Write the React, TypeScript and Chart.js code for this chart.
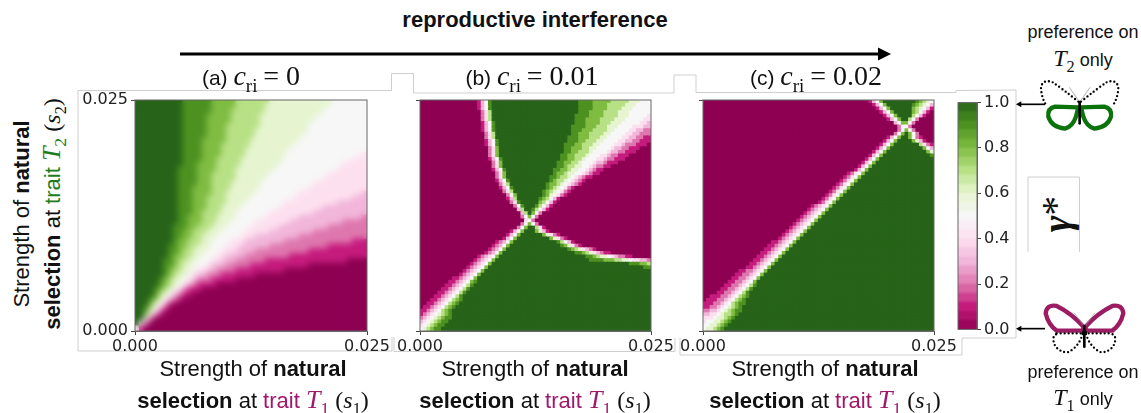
import React, { useEffect, useRef } from "react";
import { Chart, registerables } from "chart.js";

Chart.register(...registerables);

// Heatmap values: each row, top to bottom, as runs "<level><count>"; level 0-9,a means level/10 of gamma*.
const panelA: string[] = [
"a10 96 85 77 613 57","a10 96 85 76 613 58","a10 96 84 77 612 59","a10 95 85 76 612 510","a10 95 85 76 611 511","a10 95 84 77 610 512",
"a10 95 84 76 611 512","a10 95 84 76 610 513","a10 94 85 75 610 514","a10 94 84 76 69 515","a10 94 84 75 69 516","a10 94 84 75 68 516 41",
"a10 94 83 75 69 514 43","a10 93 84 75 68 513 45","a9 94 84 74 68 513 46","a9 94 83 75 67 512 48","a9 94 83 75 66 512 49","a9 94 83 74 66 511 411",
"a9 93 84 74 66 510 412","a9 93 84 73 66 59 413 31","a9 93 83 74 65 59 412 33","a9 93 83 74 64 58 411 36","a9 93 83 73 64 58 49 39","a9 93 82 74 63 57 49 311",
"a9 92 83 73 64 56 47 313 21","a9 92 83 73 63 55 47 311 25","a8 93 82 73 63 55 46 310 28","a8 92 82 73 63 55 45 39 211","a8 92 82 72 63 55 43 39 214","a8 91 82 73 62 54 43 38 214 13",
"a7 92 82 72 63 53 43 36 212 18","a7 92 81 72 63 53 43 34 211 112","a7 91 82 72 62 53 42 34 29 116","a6 92 81 72 62 53 42 33 26 117 04","a6 92 81 71 62 53 41 33 25 112 012","a6 91 81 72 62 51 42 32 24 110 017",
"a6 91 81 71 62 51 41 32 23 17 023","a5 91 81 71 62 51 41 31 23 15 027","a5 91 81 71 61 51 41 31 21 14 031","a4 91 81 71 61 51 41 21 13 034","a4 91 71 61 51 31 21 12 036","a3 91 81 61 51 31 21 11 038",
"a3 81 61 51 31 11 040","a2 91 71 51 31 11 041","a2 81 51 31 11 042","a2 51 21 044","a1 51 21 045","51 11 046",
];

const panelB: string[] = [
"016 11 31 51 91 a24 94 85 75 63 53","016 11 31 51 91 a24 94 84 75 63 54","016 11 31 51 91 a24 94 84 74 63 55","017 21 41 71 a24 93 84 74 63 56",
"017 21 41 71 a23 94 84 74 63 55 41","017 21 41 71 a23 93 84 74 63 55 42","017 11 31 51 91 a22 93 84 73 63 55 42 31","017 11 31 51 91 a21 94 83 73 63 54 43 32",
"017 11 31 51 91 a21 93 83 74 62 54 42 32 22","018 21 41 71 a21 92 83 74 62 54 42 32 23","018 21 41 71 a20 93 83 73 62 54 42 32 22 12","018 11 31 51 91 a19 93 82 73 62 54 42 32 22 13",
"018 11 31 51 91 a18 93 82 73 62 54 42 31 23 13 01","019 21 41 81 a18 92 83 72 62 54 41 32 22 13 03","019 21 41 81 a18 92 82 73 61 54 41 32 22 13 04","019 21 41 81 a17 92 82 73 61 53 42 31 22 13 06",
"019 11 31 51 91 a16 92 82 72 61 53 42 31 22 13 07","020 21 41 81 a15 92 82 72 61 53 41 32 21 13 09","020 21 41 81 a15 92 81 72 62 52 41 31 22 12 011","020 11 31 51 91 a13 92 82 71 62 52 41 31 21 12 013",
"021 21 41 81 a13 91 82 71 62 52 41 31 21 12 014","021 21 41 81 a12 92 81 72 61 51 41 31 21 12 016","021 11 31 51 91 a11 91 81 72 61 51 41 31 21 11 018","022 21 41 71 a10 91 82 71 61 51 41 31 21 11 019",
"022 11 31 51 91 a9 91 81 71 61 51 41 21 11 021","023 21 41 71 a8 91 81 71 61 51 41 21 11 022","024 21 51 81 a7 91 81 61 51 41 21 11 023","024 11 31 71 a6 91 81 71 51 31 11 025",
"025 21 41 91 a5 81 71 51 31 11 026","026 21 51 91 a3 91 71 51 31 11 027","027 31 71 a2 91 71 51 31 11 028","028 31 71 a1 81 51 21 030",
"028 21 51 81 51 21 031","029 41 51 21 032","028 21 51 81 51 21 031","027 21 51 81 a2 71 41 11 029",
"025 11 31 51 81 a3 81 61 31 11 028","024 11 31 51 81 a6 81 61 41 21 11 025","023 11 31 51 81 a9 81 61 41 21 11 023","021 11 21 31 51 81 a12 91 71 51 31 11 021",
"020 11 21 31 51 81 a14 91 81 61 41 21 11 019","019 11 21 31 51 81 a17 91 81 71 61 41 31 21 11 015","018 11 21 31 51 81 a20 92 81 71 61 41 31 21 12 011","016 11 21 31 41 51 81 a24 92 81 71 62 51 41 31 22 12 05",
"015 11 21 31 41 51 81 a26 94 83 72 62 51 42 32 21","014 11 21 31 41 51 81 a38 93 82 71","013 11 21 31 41 51 81 a43 92","012 11 21 31 41 51 81 a46",
"011 11 21 31 41 51 81 a47","09 12 21 31 41 51 81 a48","08 12 21 31 41 51 81 91 a48","07 12 21 31 41 51 71 91 a49",
"06 12 21 31 41 51 71 91 a50","05 12 21 31 41 51 71 91 a51","04 12 21 31 41 51 71 91 a52","03 12 21 31 41 51 71 81 91 a52",
"02 12 21 31 41 51 71 81 91 a53","01 12 21 31 41 51 71 81 91 a54","12 21 31 41 51 71 81 91 a55","11 21 31 41 51 61 71 81 91 a55",
"21 31 41 51 61 71 81 92 a55","31 41 51 61 71 81 92 a56","41 51 61 71 81 92 a57","51 61 71 81 92 a58",
];

const panelC: string[] = [
"046 11 31 51 81 a9 91 81 71 61 51","047 11 31 51 81 a7 91 81 71 61 51 31","048 11 31 51 81 a6 81 71 61 51 31 11","049 11 31 51 81 a5 81 71 51 31 11 01",
"050 11 31 51 81 a4 71 51 31 11 02","051 11 31 51 81 a2 71 51 21 04","053 31 51 82 51 21 05","054 21 52 21 06",
"054 21 51 81 51 21 05","053 21 51 81 a1 81 51 21 04","051 11 31 51 81 a2 81 51 21 11 03","050 11 31 51 81 a4 81 61 31 11 02",
"049 11 31 51 81 a7 71 41 21 11","048 11 31 51 81 a9 81 51 31","047 11 31 51 81 a11 81 61","046 11 31 51 81 a13 91",
"045 11 31 51 81 a15","044 11 31 51 81 a16","043 11 31 51 81 a17","042 11 31 51 81 a18",
"040 11 21 41 51 81 a19","039 11 21 41 51 81 a20","038 11 21 41 51 81 a21","037 11 21 41 51 81 a22",
"036 11 21 41 51 81 a23","035 11 21 41 51 81 a24","034 11 21 41 51 81 a25","033 11 21 41 51 81 a26",
"032 11 21 41 51 81 a27","030 11 21 31 41 51 81 a28","029 11 21 31 41 51 81 a29","028 11 21 31 41 51 81 a30",
"027 11 21 31 41 51 81 a31","026 11 21 31 41 51 81 a32","025 11 21 31 41 51 81 a33","024 11 21 31 41 51 81 a34",
"023 11 21 31 41 51 81 a35","022 11 21 31 41 51 81 a36","021 11 21 31 41 51 81 a37","019 12 21 31 41 51 81 a38",
"018 12 21 31 41 51 81 a39","017 12 21 31 41 51 81 a40","016 12 21 31 41 51 81 a41","015 12 21 31 41 51 81 a42",
"014 12 21 31 41 51 81 a43","013 12 21 31 41 51 81 a44","012 12 21 31 41 51 81 a45","010 12 22 31 41 51 81 a46",
"09 12 22 31 41 51 81 a47","08 12 22 31 41 51 81 a48","07 12 22 31 41 51 81 a49","06 12 22 31 41 51 71 91 a49",
"05 12 22 31 41 51 71 91 a50","04 12 22 31 41 51 71 91 a51","02 13 22 31 41 51 71 81 91 a51","01 13 22 31 41 51 71 81 91 a52",
"13 22 31 41 51 71 81 92 a52","12 22 31 41 51 61 71 81 91 a53","22 32 41 51 61 71 81 92 a53","32 42 51 61 72 81 91 a54",
"43 51 62 71 81 91 a55","41 52 62 71 81 91 a56","52 62 71 81 91 a57","51 62 71 81 91 a58",
];

const axisTicks: number[] = [0, 0.025];
const colorbarTicks: number[] = [0, 0.2, 0.4, 0.6, 0.8, 1];
const colorbarBands: number[] = [0,0.04,0.08,0.12,0.16,0.2,0.24,0.28,0.32,0.36,0.4,0.44,0.48,0.52,0.56,0.6,0.64,0.68,0.72,0.76,0.8,0.84,0.88,0.92,0.96,1];
const piyg: string[] = ["#8e0152","#c51b7d","#de77ae","#f1b6da","#fde0ef","#f7f7f7","#e6f5d0","#b8e186","#7fbc41","#4d9221","#276419"];

const SANS = "'Liberation Sans', Arial, sans-serif";
const SERIF = "'Liberation Serif', 'Times New Roman', serif";
const TICKFONT = "'DejaVu Sans', sans-serif";
const MAGENTA = "#a0186c";
const GREEN = "#1c7d1c";

function mapColor(v: number): string {
  const t = Math.max(0, Math.min(1, v)) * (piyg.length - 1);
  const i = Math.min(piyg.length - 2, Math.floor(t));
  const f = t - i;
  const parse = (h: string) => [1, 3, 5].map((k) => parseInt(h.slice(k, k + 2), 16));
  const a = parse(piyg[i]);
  const b = parse(piyg[i + 1]);
  return `rgb(${a.map((c, k) => Math.round(c + (b[k] - c) * f)).join(",")})`;
}

function decodeRow(row: string, width: number): number[] {
  const out: number[] = [];
  row.split(" ").forEach((tok) => {
    const level = parseInt(tok[0], 11);
    const n = parseInt(tok.slice(1), 10);
    for (let i = 0; i < n; i++) out.push(level / 10);
  });
  while (out.length < width) out.push(out[out.length - 1]);
  return out.slice(0, width);
}

const softenPlugin = (radius: number) => ({
  id: "soften",
  afterDatasetsDraw(chart: any) {
    const { ctx, canvas, chartArea: a, currentDevicePixelRatio: dpr } = chart;
    const w = a.right - a.left;
    const h = a.bottom - a.top;
    ctx.save();
    ctx.beginPath();
    ctx.rect(a.left, a.top, w, h);
    ctx.clip();
    ctx.filter = `blur(${radius}px)`;
    ctx.drawImage(canvas, a.left * dpr, a.top * dpr, w * dpr, h * dpr, a.left, a.top, w, h);
    ctx.restore();
  },
});

const framePlugin = {
  id: "frame",
  afterDatasetsDraw(chart: any) {
    const { ctx, chartArea: a } = chart;
    ctx.save();
    ctx.strokeStyle = "#666";
    ctx.lineWidth = 1;
    ctx.strokeRect(a.left, a.top, a.right - a.left, a.bottom - a.top);
    ctx.restore();
  },
};

function useChart(ref: React.RefObject<HTMLCanvasElement | null>, build: () => any) {
  useEffect(() => {
    if (!ref.current) return;
    const chart = new Chart(ref.current, build());
    return () => chart.destroy();
  }, []);
}

const LEFT_GUTTER = 55;
const TOP_PAD = 20;
const RIGHT_PAD = 30;
const BOTTOM_GUTTER = 30;

function Heat({ rows, left, top, width, height, showY, soft }: { rows: string[]; left: number; top: number; width: number; height: number; showY: boolean; soft: number }) {
  const ref = useRef<HTMLCanvasElement>(null);
  const W = width + LEFT_GUTTER + RIGHT_PAD;
  const H = height + TOP_PAD + BOTTOM_GUTTER;
  useChart(ref, () => {
    const n = rows.length;
    const pts: { x: number; y: number }[] = [];
    const colors: string[] = [];
    rows.forEach((row, r) => {
      decodeRow(row, n).forEach((v, c) => {
        pts.push({ x: ((c + 0.5) / n) * 0.025, y: ((n - r - 0.5) / n) * 0.025 });
        colors.push(mapColor(v));
      });
    });
    const tickFont = { family: TICKFONT, size: 16 };
    return {
      type: "scatter",
      data: {
        datasets: [
          {
            data: pts,
            pointStyle: "rect",
            pointRadius: (Math.max(width, height) / n) * 0.95,
            pointBorderWidth: 0,
            pointBackgroundColor: colors,
            clip: 0,
          },
        ],
      },
      options: {
        responsive: false,
        animation: false,
        events: [],
        layout: { padding: { top: TOP_PAD, right: RIGHT_PAD, bottom: 0, left: 0 } },
        plugins: { legend: { display: false }, tooltip: { enabled: false } },
        scales: {
          x: {
            type: "linear",
            min: 0,
            max: 0.025,
            afterBuildTicks: (s: any) => { s.ticks = axisTicks.map((value) => ({ value })); },
            afterFit: (s: any) => { s.height = BOTTOM_GUTTER; },
            grid: { drawOnChartArea: false, tickLength: 4, color: "#444" },
            border: { color: "#666" },
            ticks: { color: "#222", font: tickFont, padding: 2, autoSkip: false, maxRotation: 0, minRotation: 0, callback: (v: number) => v.toFixed(3) },
          },
          y: {
            type: "linear",
            min: 0,
            max: 0.025,
            afterBuildTicks: (s: any) => { s.ticks = axisTicks.map((value) => ({ value })); },
            afterFit: (s: any) => { s.width = LEFT_GUTTER; },
            grid: { drawOnChartArea: false, tickLength: 4, color: "#444" },
            border: { color: "#666" },
            ticks: { color: "#222", font: tickFont, padding: 3, autoSkip: false, callback: (v: number) => (showY ? v.toFixed(3) : "") },
          },
        },
      },
      plugins: [softenPlugin(soft), framePlugin],
    };
  });
  return <canvas ref={ref} width={W} height={H} style={{ position: "absolute", left: left - LEFT_GUTTER, top: top - TOP_PAD, width: W, height: H }} />;
}

function Colorbar() {
  const ref = useRef<HTMLCanvasElement>(null);
  useChart(ref, () => ({
    type: "bar",
    data: {
      labels: [""],
      datasets: colorbarBands.slice(0, -1).map((lo, i) => ({
        data: [[lo, colorbarBands[i + 1]]],
        backgroundColor: mapColor((lo + colorbarBands[i + 1]) / 2),
        borderWidth: 0,
        borderSkipped: false,
        barPercentage: 1,
        categoryPercentage: 1,
        grouped: false,
      })),
    },
    options: {
      responsive: false,
      animation: false,
      events: [],
      layout: { padding: { top: 12, right: 0, bottom: 12, left: 8 } },
      plugins: { legend: { display: false }, tooltip: { enabled: false } },
      scales: {
        x: { display: false },
        y: {
          position: "right",
          min: 0,
          max: 1,
          afterBuildTicks: (s: any) => { s.ticks = colorbarTicks.map((value) => ({ value })); },
          afterFit: (s: any) => { s.width = 45; },
          grid: { drawOnChartArea: false, tickLength: 4, color: "#444" },
          border: { color: "#666" },
          ticks: { color: "#222", font: { family: TICKFONT, size: 16 }, padding: 3, callback: (v: number) => v.toFixed(1) },
        },
      },
    },
    plugins: [softenPlugin(0.8), framePlugin],
  }));
  return <canvas ref={ref} width={72} height={252} style={{ position: "absolute", left: 950, top: 90, width: 72, height: 252 }} />;
}

function Txt({ x, y, rot, size, children, color }: { x: number; y: number; rot?: boolean; size: number; children: React.ReactNode; color?: string }) {
  return (
    <div
      style={{
        position: "absolute",
        left: x,
        top: y,
        transform: `translate(-50%,-50%)${rot ? " rotate(-90deg)" : ""}`,
        whiteSpace: "nowrap",
        fontFamily: SANS,
        fontSize: size,
        lineHeight: 1,
        color: color ?? "#111",
      }}
    >
      {children}
    </div>
  );
}

function MathI({ t, sub, size = 26 }: { t: string; sub?: string; size?: number }) {
  return (
    <span style={{ fontFamily: SERIF }}>
      <i style={{ fontSize: size }}>{t}</i>
      {sub && <span style={{ fontSize: size * 0.68, position: "relative", top: size * 0.24 }}>{sub}</span>}
    </span>
  );
}

function XLabel({ cx }: { cx: number }) {
  return (
    <>
      <Txt x={cx} y={369} size={22}>Strength of <b>natural</b></Txt>
      <Txt x={cx} y={400} size={22}>
        <b>selection</b> at <span style={{ color: MAGENTA }}>trait <MathI t="T" sub="1" /></span> <span style={{ fontFamily: SERIF, fontSize: 24 }}>(<MathI t="s" sub="1" size={24} />)</span>
      </Txt>
    </>
  );
}

function Title({ cx, tag, val }: { cx: number; tag: string; val: string }) {
  return (
    <Txt x={cx} y={76} size={21}>
      {tag} <MathI t="c" sub="ri" size={28} /> <span style={{ fontFamily: SERIF, fontSize: 28 }}>= {val}</span>
    </Txt>
  );
}

function Decor() {
  const frame = "#cfcfcf";
  return (
    <svg width={1141} height={413} style={{ position: "absolute", left: 0, top: 0 }}>
      <defs />
      <polyline fill="none" stroke={frame} strokeWidth={1} points="392,337 392,351 78,351 78,90.5 391.5,90.5 391.5,73.5 413.5,73.5 413.5,93 674,93 674,75 696,75 696,92.5 956,92.5 956,90.5 1016,90 1016,338 962,338 962,355 680,355 680,338" />
      <polyline fill="none" stroke={frame} strokeWidth={1} points="394,337 394,351.5 675,351.5 675,338" />
      <polyline fill="none" stroke={frame} strokeWidth={1} points="1028,252 1028,177 1079.5,177 1079.5,252" />
      <line x1={180} y1={54} x2={880} y2={54} stroke="#000" strokeWidth={3} />
      <polygon points="878,47.5 891,54 878,60.5" fill="#000" />
      <g transform="translate(940,0) scale(0.3333)">
        <path d="M415 322 L345 320 Q322 325 325 350 Q335 382 375 386 Q398 380 408 350 Z" fill="none" stroke="#0b730b" strokeWidth={13} strokeLinejoin="round" />
        <path d="M423 322 L493 320 Q516 325 513 350 Q503 382 463 386 Q440 380 430 350 Z" fill="none" stroke="#0b730b" strokeWidth={13} strokeLinejoin="round" />
        <path d="M415 305 Q370 268 335 245 Q305 238 303 265 Q305 295 320 318" fill="none" stroke="#000" strokeWidth={7} strokeDasharray="0 12" strokeLinecap="round" />
        <path d="M423 305 Q468 268 503 245 Q533 238 535 265 Q533 295 518 318" fill="none" stroke="#000" strokeWidth={7} strokeDasharray="0 12" strokeLinecap="round" />
        <line x1={418} y1={305} x2={388} y2={262} stroke="#888" strokeWidth={2} />
        <line x1={420} y1={305} x2={450} y2={262} stroke="#888" strokeWidth={2} />
        <line x1={419} y1={306} x2={419} y2={370} stroke="#000" strokeWidth={8} strokeLinecap="round" />
        <line x1={315} y1={313} x2={236} y2={313} stroke="#000" strokeWidth={5} />
        <polygon points="244,304 228,313 244,322" fill="#000" />
      </g>
      <g transform="translate(940,200) scale(0.3333)">
        <path d="M430 392 L350 392 Q325 375 317 340 Q320 312 350 318 Q395 340 430 380 Z" fill="none" stroke="#9c1c64" strokeWidth={13} strokeLinejoin="round" />
        <path d="M437 392 L517 392 Q542 375 550 340 Q547 312 517 318 Q472 340 437 380 Z" fill="none" stroke="#9c1c64" strokeWidth={13} strokeLinejoin="round" />
        <path d="M428 402 Q415 445 380 458 Q340 450 340 415 Q342 405 350 402" fill="none" stroke="#000" strokeWidth={7} strokeDasharray="0 12" strokeLinecap="round" />
        <path d="M438 402 Q451 445 486 458 Q526 450 526 415 Q524 405 516 402" fill="none" stroke="#000" strokeWidth={7} strokeDasharray="0 12" strokeLinecap="round" />
        <line x1={350} y1={400} x2={516} y2={400} stroke="#000" strokeWidth={7} strokeDasharray="0 12" strokeLinecap="round" />
        <line x1={432} y1={378} x2={402} y2={338} stroke="#999" strokeWidth={2} />
        <line x1={436} y1={378} x2={465} y2={338} stroke="#999" strokeWidth={2} />
        <line x1={433} y1={378} x2={433} y2={440} stroke="#000" strokeWidth={8} strokeLinecap="round" />
        <circle cx={433} cy={398} r={8} fill="#000" />
        <line x1={315} y1={386} x2={236} y2={386} stroke="#000" strokeWidth={5} />
        <polygon points="244,377 228,386 244,395" fill="#000" />
      </g>
    </svg>
  );
}

export default function App() {
  return (
    <div style={{ position: "absolute", left: 0, top: 0, width: 1141, height: 413, overflow: "hidden", background: "#fff" }}>
      <Decor />
      <Heat rows={panelA} left={135} top={100} width={232} height={231} showY soft={3.4} />
      <Heat rows={panelB} left={420} top={100} width={231} height={231} showY={false} soft={0.7} />
      <Heat rows={panelC} left={703} top={100} width={231} height={231} showY={false} soft={0.7} />
      <Colorbar />

      <Txt x={535} y={20} size={22}><b>reproductive interference</b></Txt>
      <Title cx={251} tag="(a)" val="0" />
      <Title cx={532} tag="(b)" val="0.01" />
      <Title cx={816} tag="(c)" val="0.02" />

      <XLabel cx={253} />
      <XLabel cx={535} />
      <XLabel cx={825} />

      <Txt x={22} y={214} rot size={22}>Strength of <b>natural</b></Txt>
      <Txt x={52} y={214} rot size={22}>
        <b>selection</b> at <span style={{ color: GREEN }}>trait <MathI t="T" sub="2" /></span> <span style={{ fontFamily: SERIF, fontSize: 24 }}>(<MathI t="s" sub="2" size={24} />)</span>
      </Txt>

      <Txt x={1083} y={32} size={18}>preference on</Txt>
      <Txt x={1083} y={58} size={18}><MathI t="T" sub="2" size={24} /> only</Txt>
      <Txt x={1083} y={372} size={18}>preference on</Txt>
      <Txt x={1083} y={397} size={18}><MathI t="T" sub="1" size={24} /> only</Txt>

      <div style={{ position: "absolute", left: 1056.5, top: 214, transform: "translate(-50%,-50%) rotate(-90deg)", fontFamily: SERIF, fontStyle: "italic", fontWeight: 700, fontSize: 40, lineHeight: 1, whiteSpace: "nowrap", color: "#111" }}>
        γ<span style={{ position: "relative", top: -1, fontStyle: "normal", fontWeight: 400 }}>*</span>
      </div>
    </div>
  );
}
